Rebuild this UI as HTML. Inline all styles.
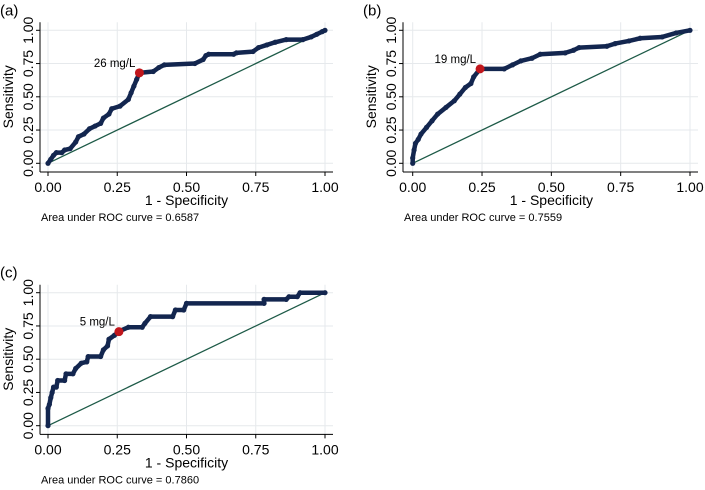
<!DOCTYPE html>
<html><head><meta charset="utf-8"><style>
body{margin:0;background:#fff;}
svg{display:block;font-family:"Liberation Sans",Arial,sans-serif;}
</style></head><body>
<svg id="chart" width="705" height="490" viewBox="0 0 705 490"></svg>
<script>
const ticks=[0,0.25,0.5,0.75,1];
const tickLabels=["0.00","0.25","0.50","0.75","1.00"];
const panelLetters=["(a)","(b)","(c)"];
const cutoffLabels=["26 mg/L","19 mg/L","5 mg/L"];
const aucLabels=["Area under ROC curve = 0.6587","Area under ROC curve = 0.7559","Area under ROC curve = 0.7860"];
const cutX=[0.33,0.243,0.256];
const cutY=[0.68,0.71,0.707];
const rocAx=[0,0.01,0.02,0.03,0.05,0.06,0.08,0.1,0.11,0.13,0.15,0.17,0.19,0.2,0.22,0.23,0.26,0.29,0.30,0.31,0.32,0.33,0.38,0.40,0.42,0.53,0.56,0.57,0.58,0.67,0.68,0.74,0.76,0.79,0.82,0.86,0.92,0.95,0.97,0.99,1];
const rocAy=[0,0.03,0.06,0.08,0.08,0.1,0.11,0.16,0.2,0.22,0.26,0.28,0.3,0.34,0.37,0.41,0.43,0.48,0.53,0.58,0.63,0.68,0.69,0.72,0.74,0.75,0.78,0.81,0.82,0.82,0.83,0.84,0.87,0.89,0.91,0.93,0.93,0.95,0.97,0.99,1];
const rocBx=[0,0,0.005,0.01,0.02,0.03,0.05,0.07,0.09,0.12,0.15,0.17,0.19,0.21,0.22,0.243,0.33,0.36,0.39,0.43,0.46,0.55,0.58,0.6,0.7,0.73,0.78,0.82,0.9,0.95,1];
const rocBy=[0,0.04,0.1,0.15,0.18,0.22,0.27,0.32,0.37,0.42,0.47,0.52,0.57,0.6,0.65,0.71,0.71,0.74,0.77,0.79,0.82,0.83,0.85,0.87,0.88,0.9,0.92,0.94,0.95,0.98,1];
const rocCx=[0,0,0.005,0.01,0.015,0.02,0.03,0.035,0.06,0.065,0.09,0.1,0.12,0.14,0.145,0.19,0.2,0.215,0.22,0.24,0.256,0.29,0.34,0.35,0.37,0.45,0.46,0.49,0.5,0.78,0.78,0.86,0.87,0.9,0.91,1];
const rocCy=[0,0.13,0.16,0.21,0.25,0.29,0.29,0.34,0.34,0.39,0.39,0.43,0.47,0.48,0.52,0.52,0.57,0.6,0.65,0.68,0.71,0.74,0.74,0.77,0.82,0.82,0.87,0.87,0.92,0.92,0.95,0.95,0.97,0.97,1,1];
const seriesX=[rocAx,rocBx,rocCx];
const seriesY=[rocAy,rocBy,rocCy];
const panels=[{x0:48,x1:325,y0:163.3,y1:30.3,ax:40},{x0:412.7,x1:690,y0:163.3,y1:30.3,ax:403},{x0:48,x1:325,y0:425.7,y1:292.7,ax:40}];
const NS="http://www.w3.org/2000/svg";
const svg=document.getElementById('chart');
function mk(tag,attrs,parent){const e=document.createElementNS(NS,tag);for(const k in attrs)e.setAttribute(k,attrs[k]);(parent||svg).appendChild(e);return e;}
panels.forEach((p,i)=>{
  const sx=v=>p.x0+v*(p.x1-p.x0);
  const sy=v=>p.y0+v*(p.y1-p.y0);
  const g=mk('g',{});
  
  
  const top=sy(1)-8,bottom=sy(0)+8.7,right=sx(1)+8;
  ticks.forEach((t,j)=>{
    const gx=mk('line',{x1:sx(t),x2:sx(t),y1:top,y2:bottom,stroke:'#e6e9ec','stroke-width':1},g);
    
    
    const gy=mk('line',{x1:p.ax,x2:right,y1:sy(t),y2:sy(t),stroke:'#e6e9ec','stroke-width':1},g);
    
    
    mk('line',{x1:sx(t),x2:sx(t),y1:bottom,y2:bottom+4,stroke:'#000'},g);
    mk('line',{x1:p.ax-4,x2:p.ax,y1:sy(t),y2:sy(t),stroke:'#000'},g);
    const xl=mk('text',{x:sx(t),y:bottom+20,'text-anchor':'middle','font-size':14},g);
    xl.textContent=tickLabels[j];
    
    
    const yl=mk('text',{x:0,y:0,'text-anchor':'middle','font-size':14,transform:`translate(${p.ax-7},${sy(t)}) rotate(-90)`},g);
    yl.textContent=tickLabels[j];
    
    
  });
  mk('line',{x1:p.ax,x2:p.ax,y1:top,y2:bottom,stroke:'#000'},g);
  mk('line',{x1:p.ax,x2:right,y1:bottom,y2:bottom,stroke:'#000'},g);
  const diag=mk('line',{x1:sx(0),y1:sy(0),x2:sx(1),y2:sy(1),stroke:'#1d5a47','stroke-width':1.3},g);
  
  
  const xs=seriesX[i],ys=seriesY[i];
  const pts=xs.map((v,k)=>sx(v)+','+sy(ys[k])).join(' ');
  const line=mk('polyline',{points:pts,fill:'none',stroke:'#13264f','stroke-width':4.5,'stroke-linejoin':'round','stroke-linecap':'round'},g);
  
  
  xs.forEach((v,k)=>{
    const c=mk('circle',{cx:sx(v),cy:sy(ys[k]),r:2.6,fill:'#13264f'},g);
    
    
  });
  const cp=mk('circle',{cx:sx(cutX[i]),cy:sy(cutY[i]),r:4.5,fill:'#c0161c'},g);
  
  
  const ct=mk('text',{x:sx(cutX[i])-4,y:sy(cutY[i])-6,'text-anchor':'end','font-size':11.5},g);
  ct.textContent=cutoffLabels[i];
  
  
  const xt=mk('text',{x:(sx(0)+sx(1))/2,y:bottom+33,'text-anchor':'middle','font-size':14},g);
  xt.textContent='1 - Specificity';
  
  
  const yt=mk('text',{x:0,y:0,'text-anchor':'middle','font-size':14,transform:`translate(${p.ax-27},${(sy(0)+sy(1))/2}) rotate(-90)`},g);
  yt.textContent='Sensitivity';
  
  
  const au=mk('text',{x:p.ax+1,y:bottom+49,'font-size':11},g);
  au.textContent=aucLabels[i];
  
  
  const pl=mk('text',{x:p.ax-40,y:sy(1)-15,'font-size':15},g);
  pl.textContent=panelLetters[i];
  
  
});
</script>
</body></html>
